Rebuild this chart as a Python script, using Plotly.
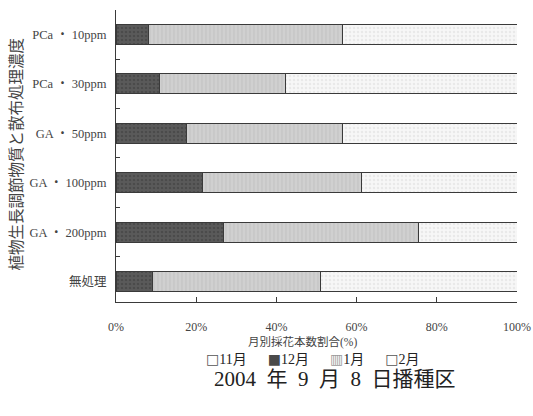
import plotly.graph_objects as go

# Treatments, listed bottom to top
categories = ["無処理", "GA・200ppm", "GA・100ppm", "GA・50ppm", "PCa・30ppm", "PCa・10ppm"]
tick_labels = ["無処理", "GA ・ 200ppm", "GA ・ 100ppm", "GA ・ 50ppm", "PCa ・ 30ppm", "PCa ・ 10ppm"]

# Share of flowers harvested per month (%)
nov = [0, 0, 0, 0, 0, 0]
dec = [9.0, 26.9, 21.5, 17.7, 10.9, 8.2]
jan = [42.0, 48.5, 39.6, 38.8, 31.3, 48.4]
feb = [49.0, 24.6, 38.9, 43.5, 57.8, 43.4]

x_ticks = [0, 20, 40, 60, 80, 100]
x_ticktext = ["0%", "20%", "40%", "60%", "80%", "100%"]

FONT = "Liberation Serif, Noto Sans CJK JP, serif"
EDGE = "#3a3a3a"

# name, values, fill, pattern, pattern colour, key glyph, key colour
series = [
    ("11月", nov, "#ffffff", "", "#ffffff", "□", "#555555"),
    ("12月", dec, "#5a5a5a", ".", "#3c3c3c", "■", "#4a4a4a"),
    ("1月", jan, "#d0d0d0", "|", "#b8b8b8", "▥", "#9a9a9a"),
    ("2月", feb, "#f7f7f7", ".", "#d9d9d9", "□", "#555555"),
]

fig = go.Figure()
for name, vals, color, shape, fg, _, _ in series:
    fig.add_trace(go.Bar(
        y=categories, x=vals, name=name, orientation="h", width=0.41,
        marker=dict(color=color, line=dict(color=EDGE, width=1),
                    pattern=dict(shape=shape, fgcolor=fg, size=4, solidity=0.3)),
    ))

# Compact inline key: glyph directly in front of each month name
key_text = "\u2003\u2002".join(
    f"<span style='font-family:DejaVu Sans;color:{kc}'>{g}</span>{name}"
    for name, _, _, _, _, g, kc in series
)

fig.update_layout(
    barmode="stack",
    width=533, height=416,
    margin=dict(l=116, r=16, t=10, b=114, autoexpand=False),
    plot_bgcolor="white", paper_bgcolor="white",
    font=dict(family=FONT, color="#333333", size=10),
    showlegend=False,
    xaxis=dict(range=[0, 100], tickvals=x_ticks, ticktext=x_ticktext, automargin=False,
               showline=True, linecolor=EDGE, linewidth=1, ticks="inside", ticklen=5,
               tickcolor=EDGE, showgrid=False, zeroline=False, ticklabelstandoff=14,
               tickfont=dict(size=12, family=FONT, color="#444444")),
    yaxis=dict(type="category", categoryorder="array", categoryarray=categories,
               tickvals=categories, ticktext=tick_labels, automargin=False,
               range=[-0.41, 5.49], showline=True, linecolor=EDGE, linewidth=1,
               ticks="inside", ticklen=4, tickcolor=EDGE, tickson="boundaries",
               showgrid=False, ticklabelstandoff=6,
               tickfont=dict(size=12.5, family=FONT, color="#444444")),
    annotations=[
        dict(text="月別採花本数割合(%)", xref="paper", yref="paper", x=0.465, y=-0.136,
             xanchor="center", yanchor="middle", showarrow=False,
             font=dict(size=11.5, family=FONT, color="#444444")),
        dict(text=key_text, xref="paper", yref="paper", x=0.49, y=-0.195,
             xanchor="center", yanchor="middle", showarrow=False,
             font=dict(size=14, family=FONT, color="#222222")),
        dict(text="2004\u2002年\u20029\u2002月\u20028\u2002日播種区", xref="paper", yref="paper",
             x=0.545, y=-0.264, xanchor="center", yanchor="middle", showarrow=False,
             font=dict(size=21, family=FONT, color="#222222")),
        dict(text="植物生長調節物質と散布処理濃度", xref="paper", yref="paper",
             x=-0.247, y=0.508, xanchor="center", yanchor="middle", showarrow=False,
             textangle=-90, font=dict(size=15.5, family=FONT, color="#444444")),
    ],
)

fig.write_html("out.html")
